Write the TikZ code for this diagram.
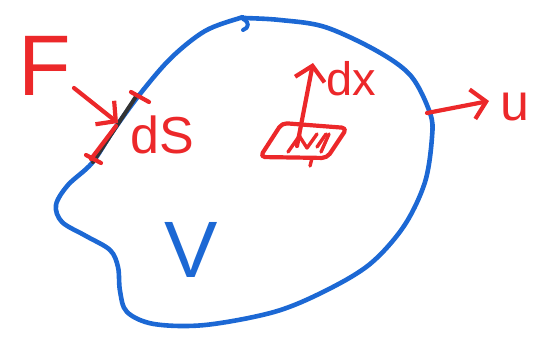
\documentclass[tikz,border=0pt]{standalone}
\usepackage{fontspec}
\setmainfont{Liberation Sans}
\usetikzlibrary{arrows.meta}
\definecolor{pen}{RGB}{236,40,42}
\definecolor{ink}{RGB}{28,104,212}
\tikzset{
  bluepen/.style={draw=ink, line width=4.6pt, line cap=round, line join=round},
  redpen/.style={draw=pen, line width=4.2pt, line cap=round, line join=round},
  redarrow/.style={redpen, -{Straight Barb[length=14pt,width=30pt,line width=4.2pt]}},
  lbl/.style={inner sep=0pt, anchor=base},
}
\begin{document}
\begin{tikzpicture}[x=1pt,y=-1pt]
\useasboundingbox (0,0) rectangle (534,338);
% volume outline
\draw[bluepen] plot[smooth cycle, tension=0.55] coordinates {
 (245,18) (280,20) (325,27) (377,51) (411,76) (430,113) (432,137) (425,182)
 (404,226) (370,264) (325,291) (274,312) (205,325) (154,324) (127,312)
 (120,291) (118,267) (110,250) (86,236) (62,222) (56,205) (68,185) (92,163)
 (113,131) (140,94) (171,58) (205,31) (240,18)};
% small hook at the top
\coordinate (hk1) at (243,19);
\coordinate (hk2) at (243,30);
\draw[bluepen, line width=4pt] (hk1) .. controls (250,22) and (249,28) .. (hk2);
% surface element dS
\coordinate (s1) at (137,95);
\coordinate (s2) at (93,162);
\draw[line width=4pt, draw=black!80, line cap=round] (s1) -- (s2);
\coordinate (r1) at (116,126);
\coordinate (r2) at (91,159);
\draw[redpen] (r1) -- (r2);
\coordinate (t1a) at (131,92);
\coordinate (t1b) at (149,102);
\coordinate (t2a) at (86,155);
\coordinate (t2b) at (101,163);
\draw[redpen] (t1a) -- (t1b);
\draw[redpen] (t2a) -- (t2b);
% force
\node[lbl, text=pen, font=\fontsize{86}{86}\selectfont] (F) at (45,95) {F};
\coordinate (Fs) at (74,88);
\coordinate (Fe) at (118,123);
\draw[redarrow] (Fs) -- (Fe);
\node[lbl, text=pen, font=\fontsize{52}{52}\selectfont] (dS) at (162,153) {dS};
% volume element
\coordinate (p1) at (282,123);
\coordinate (p2) at (347,128);
\coordinate (p3) at (327,158);
\coordinate (p4) at (260,157);
\draw[redpen, rounded corners=5pt] (p1) -- (p2) -- (p3) -- (p4) -- cycle;
\draw[redpen, line width=3.4pt] (288,152) -- (300,135);
\draw[redpen, line width=3.4pt] (300,137) -- (307,148) -- (317,134);
\draw[redpen, line width=3.4pt] (317,147) -- (326,134);
\draw[redpen, line width=3.4pt] (321,152) -- (329,134);
\coordinate (tl1) at (312,158);
\coordinate (tl2) at (310,166);
\draw[redpen, line width=3.4pt] (tl1) -- (tl2);
\coordinate (xs) at (297,146);
\coordinate (xe) at (313,63);
\draw[redarrow] (xs) -- (xe);
\node[lbl, text=pen, font=\fontsize{47}{47}\selectfont] (dx) at (351,95) {dx};
% velocity
\coordinate (us) at (427,113);
\coordinate (ue) at (489,101);
\draw[redarrow] (us) -- (ue);
\node[lbl, text=pen, font=\fontsize{52}{52}\selectfont] (u) at (515,120) {u};
% volume label
\node[lbl, text=ink, font=\fontsize{80}{80}\selectfont] (V) at (191,277) {V};
\end{tikzpicture}
\end{document}
